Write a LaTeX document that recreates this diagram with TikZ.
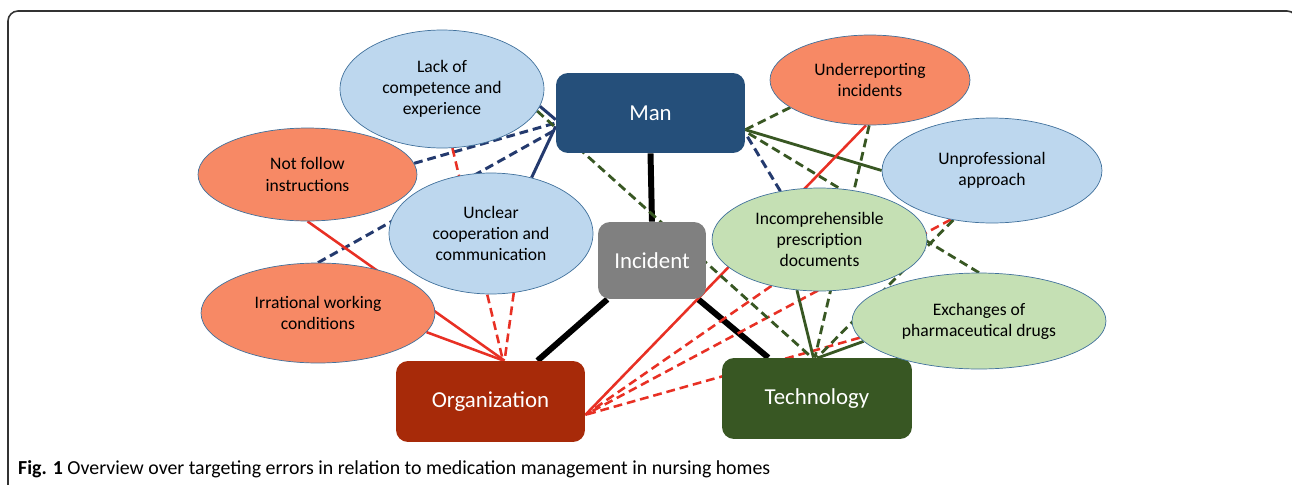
\documentclass[tikz,border=0pt]{standalone}
\usepackage{fontspec}
\setmainfont{Carlito}
\usepackage{tikz}
\usetikzlibrary{shapes,positioning,backgrounds}

\definecolor{manblue}{RGB}{37,79,122}
\definecolor{incgray}{RGB}{128,128,128}
\definecolor{orgred}{RGB}{167,42,9}
\definecolor{techgreen}{RGB}{56,87,35}
\definecolor{salmon}{RGB}{247,137,101}
\definecolor{paleblue}{RGB}{189,215,238}
\definecolor{palegreen}{RGB}{197,224,180}
\definecolor{ellborder}{RGB}{65,113,156}
\definecolor{linered}{RGB}{232,48,36}
\definecolor{lineblue}{RGB}{36,58,110}
\definecolor{linegreen}{RGB}{56,87,35}

\begin{document}
\begin{tikzpicture}[x=0.02cm,y=-0.02cm]
	\tikzstyle{factor}
	  =[draw=ellborder, ellipse, inner sep=0pt, align=center,
	  font=\fontsize{10}{12}\selectfont]
	\tikzstyle{area}
	  =[rectangle, rounded corners=0.24cm, text=white,
	  font=\fontsize{13}{15}\selectfont]
	\tikzstyle{redline}=[draw=linered, line width=1.45pt]
	\tikzstyle{blueline}=[draw=lineblue, line width=1.7pt]
	\tikzstyle{greenline}=[draw=linegreen, line width=1.6pt]
	\tikzstyle{blackline}=[draw=black, line width=3.4pt]
	\tikzstyle{dashline}=[dash pattern=on 5pt off 2.8pt]

	\useasboundingbox (0,0) rectangle (1292,484);

	% the four areas and the incident
	\node[area, fill=manblue, minimum width=3.78cm, minimum height=1.6cm] (Man)
	  at (650.5,113) {Man};
	\node[area, fill=incgray, minimum width=2.16cm, minimum height=1.54cm] (Incident)
	  at (652,260.5) {Incident};
	\node[area, fill=orgred, minimum width=3.78cm, minimum height=1.62cm] (Org)
	  at (490.5,401.5) {Organization};
	\node[area, fill=techgreen, minimum width=3.8cm, minimum height=1.62cm] (Tech)
	  at (817,398.5) {Technology};

	% errors
	\node[factor, fill=paleblue, minimum width=4.08cm, minimum height=2.36cm] (LackComp)
	  at (442,89) {Lack of\\competence and\\experience};
	\node[factor, fill=salmon, minimum width=4.38cm, minimum height=1.86cm] (NotFollow)
	  at (307.5,174.5) {Not follow\\instructions};
	\node[factor, fill=paleblue, minimum width=4.08cm, minimum height=2.42cm] (Unclear)
	  at (491,233.5) {Unclear\\cooperation and\\communication};
	\node[factor, fill=salmon, minimum width=4.68cm, minimum height=2cm] (Irrational)
	  at (318,313) {Irrational working\\conditions};
	\node[factor, fill=salmon, minimum width=4cm, minimum height=1.8cm] (Underrep)
	  at (870,80) {Underreporting\\incidents};
	\node[factor, fill=paleblue, minimum width=4.4cm, minimum height=2.1cm] (Unprof)
	  at (992,170.5) {Unprofessional\\approach};
	\node[factor, fill=palegreen, minimum width=4.3cm, minimum height=2.06cm] (Incompr)
	  at (819.5,239.5) {Incomprehensible\\prescription\\documents};
	\node[factor, fill=palegreen, minimum width=5.08cm, minimum height=1.92cm] (Exchange)
	  at (979,321) {Exchanges of\\pharmaceutical drugs};

	\node[anchor=base west, font=\fontsize{11.3}{13}\selectfont] (caption)
	  at (12,474) {\textbf{Fig. 1} Overview over targeting errors in relation to medication management in nursing homes};

	\begin{scope}[on background layer]
	\draw[gray!40!black, line width=0.9pt, rounded corners=0.2cm]
	  (8,520)--(8,11)--(1297,11)--(1297,520);

	\draw[blackline] (Man.south)--(Incident.north);
	\draw[blackline] (Incident.221)--(Org.41);
	\draw[blackline] (Incident.320)--(Tech.140);

	% to Man
	\draw[blueline] (LackComp.350)--(Man.184);
	\draw[blueline,dashline] (NotFollow.6)--(Man.186);
	\draw[blueline,dashline] (Irrational.north)--(Man.190);
	\draw[blueline] (Unclear.54)--(Man.188);
	\draw[greenline,dashline] (Underrep.199)--(Man.350.5);
	\draw[greenline] (Unprof.west)--(Man.350.5);
	\draw[blueline,dashline] (Incompr.129)--(Man.348.5);
	\draw[greenline,dashline] (Exchange.north)--(Man.349.5);

	% to Organization
	\draw[redline,dashline] (LackComp.280)--(Org.73);
	\draw[redline,dashline] (Unclear.291)--(Org.71);
	\draw[redline] (NotFollow.south)--(Org.71.5);
	\draw[redline] (Irrational.350)--(Org.72);
	\draw[redline] (Underrep.265)--(Org.352.5);
	\draw[redline,dashline] (Unprof.230)--(Org.352);
	\draw[redline,dashline] (Incompr.224)--(Org.352);
	\draw[redline,dashline] (Exchange.188)--(Org.352);

	% to Technology
	\draw[greenline,dashline] (LackComp.347)--(Tech.97);
	\draw[greenline,dashline] (Underrep.269)--(Tech.93);
	\draw[greenline] (Incompr.246)--(Tech.95);
	\draw[greenline,dashline] (Unprof.232)--(Tech.90);
	\draw[greenline] (Exchange.190)--(Tech.88);
	\end{scope}
\end{tikzpicture}
\end{document}
